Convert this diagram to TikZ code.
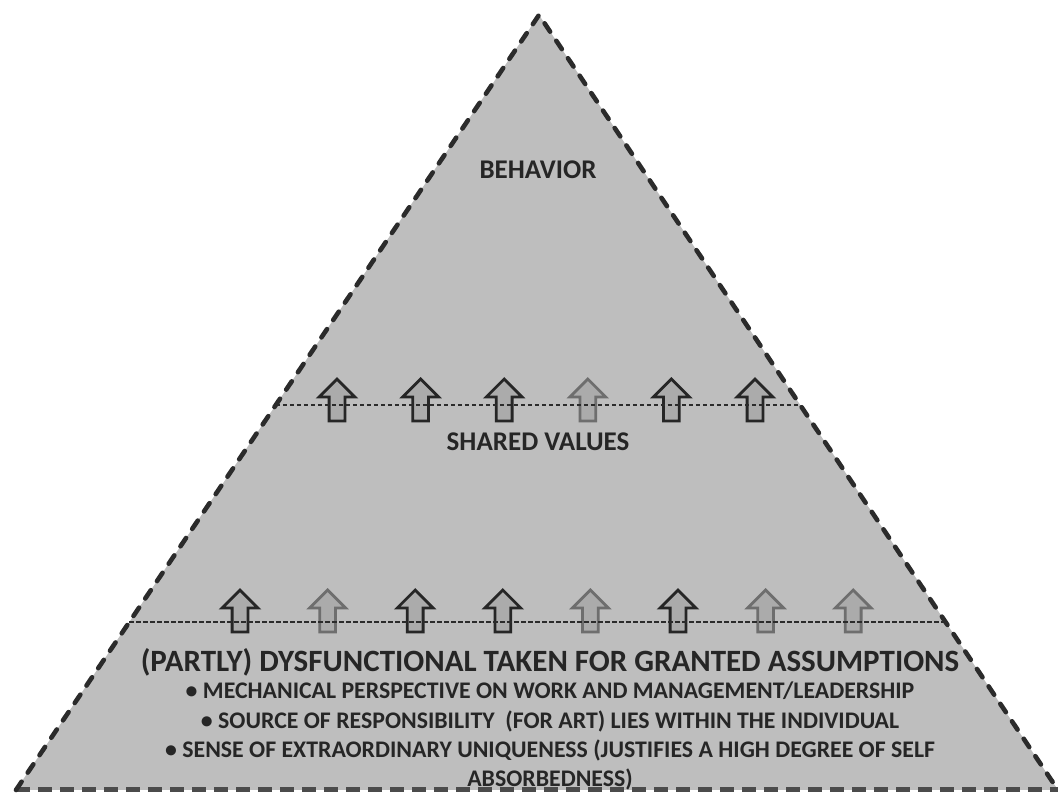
\documentclass[tikz,border=0pt]{standalone}
\usepackage{fontspec}
\setmainfont{Carlito}
\usetikzlibrary{positioning,shapes.arrows,calc}

\definecolor{edgedark}{HTML}{2B2B2B}
\definecolor{arrowdark}{HTML}{262626}
\definecolor{arrowgray}{HTML}{6E6E6E}
\definecolor{pyrgray}{HTML}{BEBEBE}

\tikzset{
    sideedge/.style={draw=edgedark, line width=4.6pt, line cap=round, dash pattern=on 10pt off 11pt},
    baseedge/.style={draw=edgedark!85, line width=5pt, dash pattern=on 14pt off 8pt},
    layerline/.style={draw=edgedark, line width=1.8pt, dash pattern=on 4.5pt off 2.5pt},
    uparrow/.style={single arrow, draw=arrowdark, fill=black!33, line width=2.8pt,
        shape border rotate=90, minimum height=42pt, minimum width=34pt,
        single arrow head extend=10pt, inner sep=6.5pt},
    uparrowlight/.style={uparrow, draw=arrowgray},
    tiertext/.style={font=\fontsize{27}{31}\selectfont\bfseries, text=black!85, inner sep=0pt},
    headtext/.style={font=\fontsize{31}{36}\selectfont\bfseries, text=black!85, inner sep=0pt},
    listtext/.style={font=\fontsize{23.8}{28}\selectfont\bfseries, text=black!85, inner sep=0pt},
}

\begin{document}
\begin{tikzpicture}[x=1pt,y=1pt]
    \useasboundingbox (0,0) rectangle (1063,794);
    \coordinate (apex) at (539,779);
    \coordinate (bl) at (16,4);
    \coordinate (br) at (1058,4);

    \fill[pyrgray] (apex) -- (bl) -- (br) -- cycle;
    \begin{scope}
        \clip (0,0) rectangle (1063,794);
        \draw[baseedge] (bl) -- (br);
    \end{scope}
    \draw[sideedge] (bl) -- (apex) -- (br);

    \coordinate (upl) at ($(apex)!0.50323!(bl)$);
    \coordinate (upr) at ($(apex)!0.50323!(br)$);
    \coordinate (lowl) at ($(apex)!0.78323!(bl)$);
    \coordinate (lowr) at ($(apex)!0.78323!(br)$);

    \foreach \i/\s in {1/uparrow,2/uparrow,3/uparrow,4/uparrowlight,5/uparrow,6/uparrow}
        \node[\s] (u\i) at ({337+83.6*(\i-1)},390) {};
    \foreach \i/\s in {1/uparrow,2/uparrowlight,3/uparrow,4/uparrow,5/uparrowlight,6/uparrow,7/uparrowlight,8/uparrowlight}
        \node[\s] (l\i) at ({240+87.6*(\i-1)},179) {};

    \draw[layerline] (upl) -- (upr);
    \draw[layerline] (lowl) -- (lowr);

    \node[tiertext] (behavior) at (538,624) {BEHAVIOR};
    \node[tiertext] (shared) at (538,352) {SHARED VALUES};

    \node[headtext, anchor=base] (assume) at (550,122) {(PARTLY) DYSFUNCTIONAL TAKEN FOR GRANTED ASSUMPTIONS};
    \node[listtext, below=27pt of assume.base, anchor=base] (b1) {• MECHANICAL PERSPECTIVE ON WORK AND MANAGEMENT/LEADERSHIP};
    \node[listtext, below=29.5pt of b1.base, anchor=base] (b2) {• SOURCE OF RESPONSIBILITY \ (FOR ART) LIES WITHIN THE INDIVIDUAL};
    \node[listtext, below=29.5pt of b2.base, anchor=base] (b3) {• SENSE OF EXTRAORDINARY UNIQUENESS (JUSTIFIES A HIGH DEGREE OF SELF};
    \node[listtext, below=29pt of b3.base, anchor=base] (b4) {ABSORBEDNESS)};
\end{tikzpicture}
\end{document}
